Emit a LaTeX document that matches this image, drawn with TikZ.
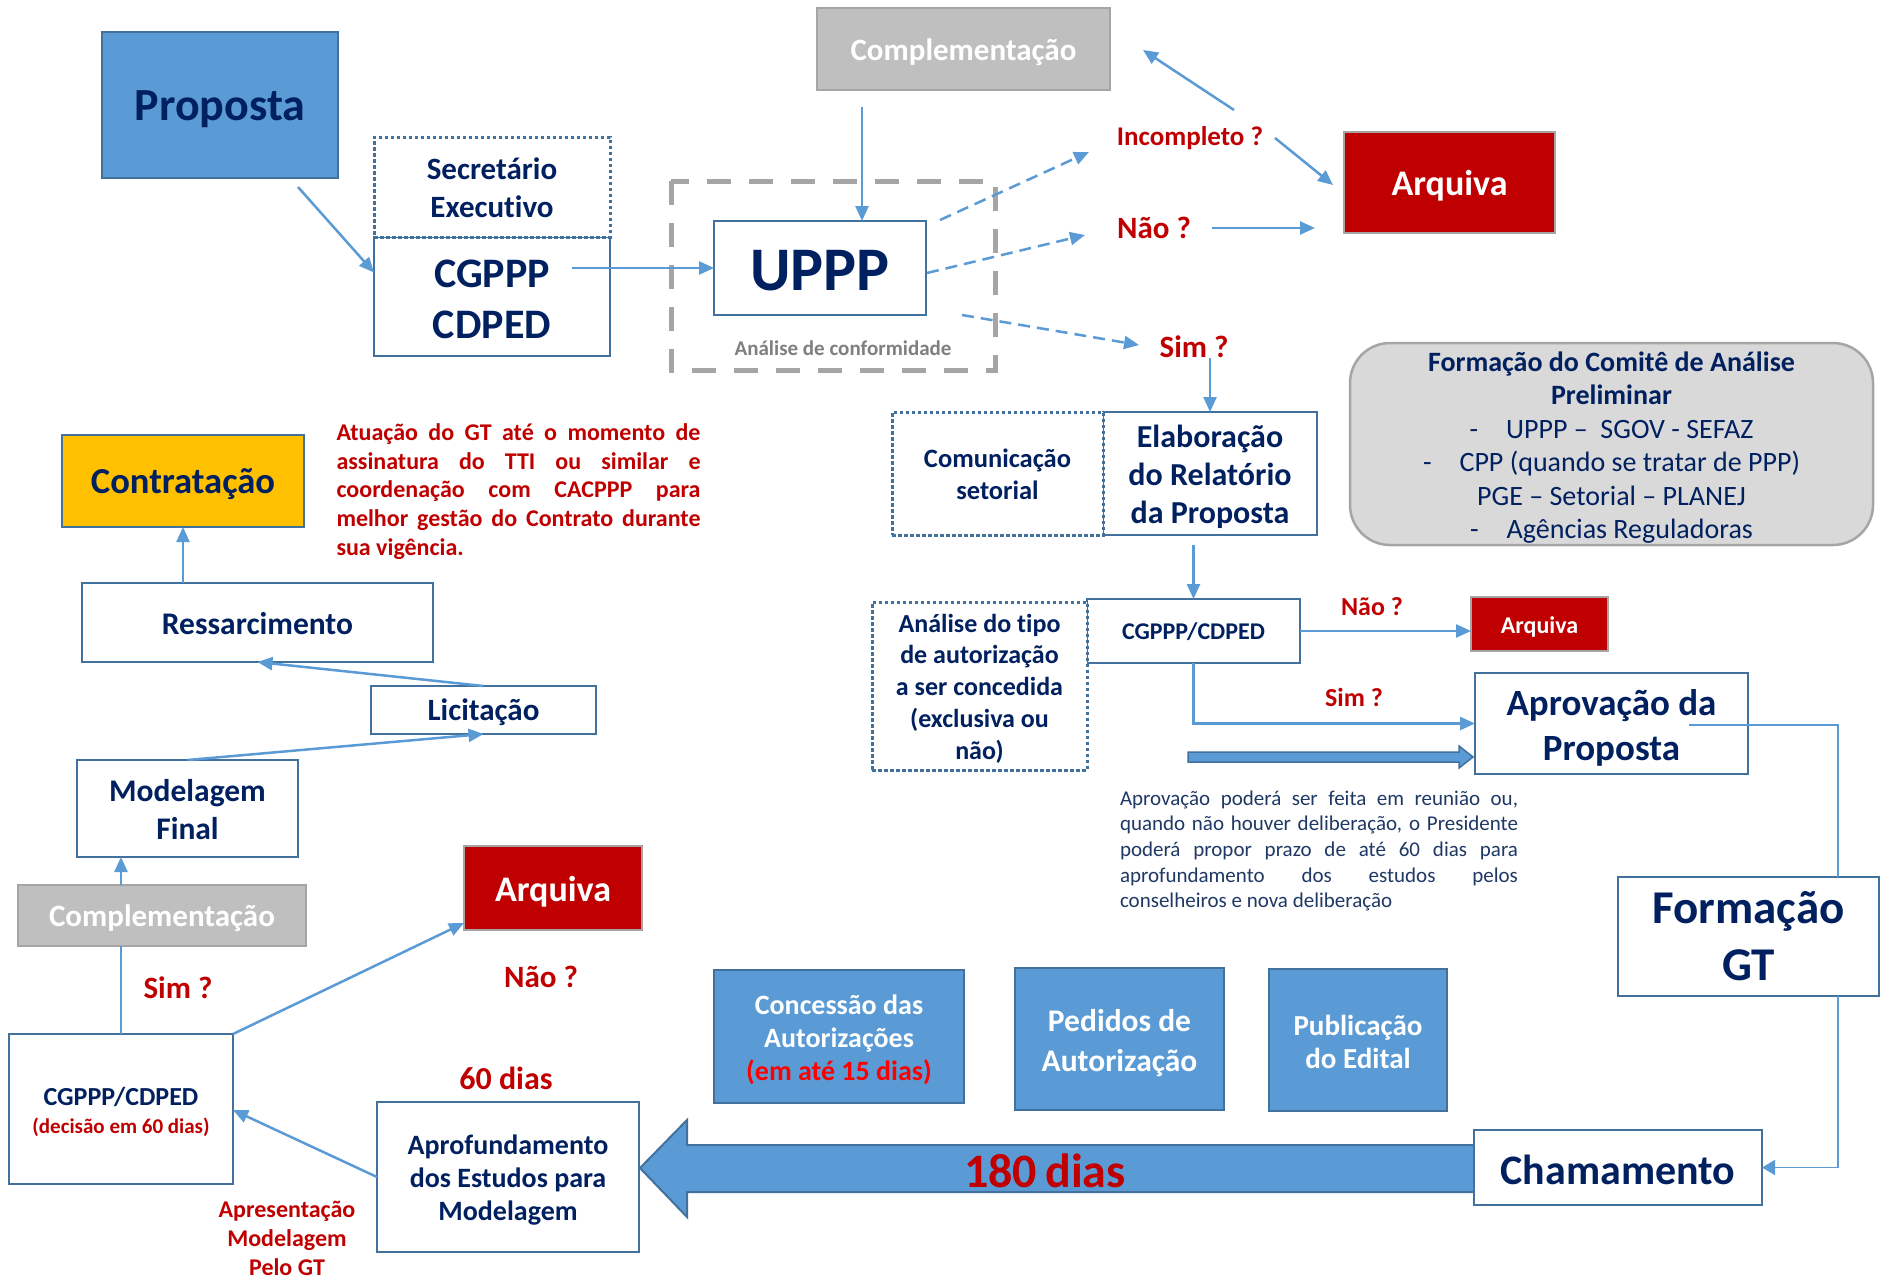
\documentclass[tikz,border=0pt]{standalone}
\usepackage{fontspec}
\setmainfont{Carlito}[Ligatures=NoCommon]
\usetikzlibrary{arrows.meta,calc}
\definecolor{navy}{HTML}{002060}
\definecolor{boxblue}{HTML}{5B9BD5}
\definecolor{bborder}{HTML}{41719C}
\definecolor{ablue}{HTML}{5B9BD5}
\definecolor{dred}{HTML}{C00000}
\definecolor{bred}{HTML}{FF0000}
\definecolor{greyf}{HTML}{BFBFBF}
\definecolor{greyb}{HTML}{A5A5A5}
\definecolor{lgrey}{HTML}{D9D9D9}
\definecolor{gold}{HTML}{FFC000}
\definecolor{tgrey}{HTML}{7F7F7F}
\definecolor{notec}{HTML}{1F3864}
\newcommand\fsz[2]{\fontsize{#1}{#2}\selectfont}
\newcommand\dn[2][3pt]{\raisebox{-#1}[\height][\depth]{#2}}
\begin{document}
\begin{tikzpicture}[x=1pt,y=-1pt,
 every node/.style={inner sep=0pt, outer sep=0pt},
 wh/.style 2 args={minimum width=#1pt, minimum height=#2pt},
 box/.style={draw=bborder, line width=2.5pt, fill=white, align=center, text=navy},
 dotbox/.style={draw=bborder, line width=3pt, dash pattern=on 3.5pt off 2.5pt, align=center, text=navy},
 bluebox/.style={draw=bborder, line width=2.5pt, fill=boxblue, align=center, text=white},
 greybox/.style={draw=greyb, line width=2.5pt, fill=greyf, align=center, text=white},
 redbox/.style={draw=greyb, line width=2.5pt, fill=dred, align=center, text=white},
 lab/.style={text=dred, align=center},
 arr/.style={draw=ablue, line width=2.5pt, -{Triangle[length=15pt,width=13pt]}},
 darr/.style={arr, dash pattern=on 12pt off 7pt},
 conn/.style={draw=ablue, line width=2.5pt},
 thinl/.style={draw=ablue, line width=1.8pt},
]
\fill[white] (0,0) rectangle (1884,1282);
\useasboundingbox (0,0) rectangle (1884,1282);

% big 180 dias arrow
\draw[fill=boxblue, draw=bborder, line width=2pt] (1474,1145) -- (687,1145) -- (687,1120) -- (640,1168) -- (687,1217) -- (687,1192) -- (1474,1192);
% thick arrow into Aprovacao
\draw[fill=boxblue, draw=bborder, line width=1.5pt] (1188,752) -- (1459,752) -- (1459,746) -- (1473,757) -- (1459,768) -- (1459,762) -- (1188,762) -- cycle;

% dashed grey analysis frame
\draw[greyb, line width=5pt, dash pattern=on 24pt off 18pt] (671,181) rectangle (995,370);
\node[text=tgrey, font=\bfseries\fsz{21}{25}] (conf) at (843,348) {Análise de conformidade};

% top row
\node[bluebox, wh={236}{146}, text=navy, font=\bfseries\fsz{46}{55}] (prop) at (220,105) {\dn[4pt]{Proposta}};
\node[box, wh={236}{119}, font=\bfseries\fsz{42}{51}] (cg) at (492,296.5) {\dn{CGPPP}\\\dn{CDPED}};
\node[dotbox, wh={236}{100}, fill=white, font=\bfseries\fsz{31}{38}] (sec) at (492,187) {\dn[1pt]{Secretário}\\\dn[1pt]{Executivo}};
\node[box, wh={212}{94}, font=\bfseries\fsz{62}{70}] (uppp) at (820,268) {\dn{UPPP}};
\node[greybox, wh={293}{82}, font=\bfseries\fsz{31}{37}] (comp) at (963.5,49) {\dn{Complementação}};
\node[redbox, wh={211}{101}, font=\bfseries\fsz{36}{42}] (arq1) at (1449.5,182.5) {\dn[3.5pt]{Arquiva}};

\node[lab, font=\bfseries\fsz{27}{32}] (inc) at (1190,138) {Incompleto ?};
\node[lab, font=\bfseries\fsz{31}{36}] (nao1) at (1154,228) {Não ?};
\node[lab, font=\bfseries\fsz{31}{36}] (sim1) at (1194,347) {Sim ?};

% comite
\node[draw=greyb, fill=lgrey, line width=2.5pt, rounded corners=40pt, wh={523}{202}, align=center, text=navy, font=\fsz{28}{33.4}] (comite) at (1611.5,444)
 {\dn[3.5pt]{\bfseries Formação do Comitê de Análise}\\\dn[3.5pt]{\bfseries Preliminar}\\\dn[3.5pt]{-\quad UPPP –\ \ SGOV - SEFAZ}\\\dn[3.5pt]{-\quad CPP (quando se tratar de PPP)}\\\dn[3.5pt]{PGE – Setorial – PLANEJ}\\\dn[3.5pt]{-\quad Agências Reguladoras}};

% middle right
\node[box, wh={214}{123}, font=\bfseries\fsz{32}{38}] (elab) at (1210,473.5) {\dn{Elaboração}\\\dn{do Relatório}\\\dn{da Proposta}};
\node[dotbox, wh={211}{123}, fill=white, font=\bfseries\fsz{26.5}{32}] (com) at (997.5,473.5) {\dn[1pt]{Comunicação}\\\dn[1pt]{setorial}};
\node[box, wh={213}{64}, font=\bfseries\fsz{24}{28}] (cg2) at (1193.5,631) {\dn[1pt]{CGPPP/CDPED}};
\node[dotbox, wh={215}{168}, fill=white, font=\bfseries\fsz{26}{31.8}] (ana) at (979.5,686) {\dn[2.5pt]{Análise do tipo}\\\dn[2.5pt]{de autorização}\\\dn[2.5pt]{a ser concedida}\\\dn[2.5pt]{(exclusiva ou}\\\dn[2.5pt]{não)}};
\node[redbox, wh={137}{54}, font=\bfseries\fsz{24}{28}] (arq2) at (1539.5,624) {\dn[2.5pt]{Arquiva}};
\node[lab, font=\bfseries\fsz{26}{30}] (nao2) at (1372,607) {Não ?};
\node[lab, font=\bfseries\fsz{26}{30}] (sim2) at (1354,697) {Sim ?};
\node[box, wh={273}{101}, font=\bfseries\fsz{37}{45}] (apr) at (1611.5,723.5) {\dn[4pt]{Aprovação da}\\\dn[4pt]{Proposta}};
\node[text=notec, align=left, font=\fsz{21}{25.7}] (note) at (1319,851)
 {\makebox[398pt][s]{Aprovação poderá ser feita em reunião ou,}\\
  \makebox[398pt][s]{quando não houver deliberação, o Presidente}\\
  \makebox[398pt][s]{poderá propor prazo de até 60 dias para}\\
  \makebox[398pt][s]{aprofundamento dos estudos pelos}\\
  conselheiros e nova deliberação};
\node[box, wh={261}{119}, font=\bfseries\fsz{47}{57}] (fgt) at (1748.5,936.5) {Formação\\GT};
\node[box, wh={288}{75}, font=\bfseries\fsz{42}{50}] (cham) at (1618,1167.5) {\dn[2.5pt]{Chamamento}};

% bottom blue boxes
\node[bluebox, wh={250}{133}, font=\bfseries\fsz{28}{33}] (conc) at (839,1036.5) {\dn[3.5pt]{Concessão das}\\\dn[3.5pt]{Autorizações}\\\dn[3.5pt]{\color{bred}(em até 15 dias)}};
\node[bluebox, wh={209}{142}, font=\bfseries\fsz{31.5}{40}] (ped) at (1119.5,1039) {\dn[4pt]{Pedidos de}\\\dn[4pt]{Autorização}};
\node[bluebox, wh={178}{142}, font=\bfseries\fsz{29}{33}] (pub) at (1358,1040) {\dn[1.5pt]{Publicação}\\\dn[1.5pt]{do Edital}};
\node[text=dred, font=\bfseries\fsz{48}{56}] (dias180) at (1045,1171) {180\,dias};

% bottom left
\node[box, wh={262}{150}, font=\bfseries\fsz{28}{33}] (aprof) at (508,1177) {\dn[3.5pt]{Aprofundamento}\\\dn[3.5pt]{dos Estudos para}\\\dn[3.5pt]{Modelagem}};
\node[lab, font=\bfseries\fsz{32}{38}] (d60) at (506,1078) {60 dias};
\node[box, wh={224}{150}, font=\bfseries\fsz{26}{28}] (cg3) at (121,1109) {\dn{CGPPP/CDPED}\\\dn{\color{dred}\fsz{21}{28}(decisão em 60 dias)}};
\node[lab, font=\bfseries\fsz{24}{29}] (apres) at (287,1238) {Apresentação\\Modelagem\\Pelo GT};
\node[redbox, wh={178}{84}, font=\bfseries\fsz{36}{42}] (arq3) at (553,888) {\dn[3.5pt]{Arquiva}};
\node[lab, font=\bfseries\fsz{31}{36}] (nao3) at (541,977) {Não ?};
\node[lab, font=\bfseries\fsz{31}{36}] (sim3) at (178,988) {Sim ?};
\node[greybox, wh={288}{61}, font=\bfseries\fsz{31}{37}] (comp3) at (162,915.5) {\dn[2.5pt]{Complementação}};
\node[box, wh={221}{97}, font=\bfseries\fsz{31.5}{38}] (mod) at (187.5,808.5) {\dn[1pt]{Modelagem}\\\dn[1pt]{Final}};
\node[box, wh={225}{48}, font=\bfseries\fsz{31}{36}] (lic) at (483.5,710) {\dn[2.5pt]{Licitação}};
\node[box, wh={351}{79}, font=\bfseries\fsz{31.5}{37}] (ress) at (257.5,622.5) {\dn[1pt]{Ressarcimento}};
\node[box, wh={242}{92}, fill=gold, font=\bfseries\fsz{36.6}{42}] (contr) at (183,481) {\dn[3.5pt]{Contratação}};
\node[text=dred, align=left, font=\bfseries\fsz{24}{28.8}] (atua) at (518.5,491.5)
 {\makebox[364pt][s]{Atuação do GT até o momento de}\\
  \makebox[364pt][s]{assinatura do TTI ou similar e}\\
  \makebox[364pt][s]{coordenação com CACPPP para}\\
  \makebox[364pt][s]{melhor gestão do Contrato durante}\\
  sua vigência.};

% free ends
\coordinate (p1) at (298,187);
\coordinate (c2) at (572,268);
\coordinate (c3) at (862,107);
\coordinate (d1s) at (940,220);
\coordinate (d1e) at (1089,152);
\coordinate (d2s) at (927,273);
\coordinate (d2e) at (1085,235);
\coordinate (d3s) at (962,315);
\coordinate (d3e) at (1139,345);
\coordinate (i1) at (1234,110);
\coordinate (i1e) at (1143,50);
\coordinate (i2) at (1275,138);
\coordinate (i2e) at (1333,185);
\coordinate (n1) at (1212,228);
\coordinate (n1e) at (1315,228);
\coordinate (a1) at (1689,725);

% connectors
\draw[arr] (p1) -- ([yshift=24pt]cg.west);
\draw[arr] (c2) -- (uppp.west);
\draw[arr] (c3) -- (c3 |- uppp.north);
\draw[darr] (d1s) -- (d1e);
\draw[darr] (d2s) -- (d2e);
\draw[darr] (d3s) -- (d3e);
\draw[arr] (i1) -- (i1e);
\draw[arr] (i2) -- (i2e);
\draw[arr] (n1) -- (n1e);
\draw[arr] (sim1.south -| elab.north) -- (elab.north);
\draw[arr] ([yshift=-10pt]elab.south -| cg2.north) -- (cg2.north);
\draw[arr] (cg2.east) -- (cg2.east -| arq2.west);
\draw[arr] (cg2.south) |- (apr.west);
\draw[thinl] (a1) -| ([xshift=89.5pt]fgt.north);
\draw[thinl, -{Triangle[length=13pt,width=15pt]}] ([xshift=89.5pt]fgt.south) |- (cham.east);
\draw[arr] (aprof.west) -- ([yshift=-1pt]cg3.east);
\draw[arr] (cg3.north east) -- ([yshift=7pt]arq3.south west);
\draw[conn] (cg3.north) -- (cg3.north |- comp3.south);
\draw[arr] (cg3.north |- comp3.north) -- (cg3.north |- mod.south);
\draw[arr] (mod.north) -- (lic.south);
\draw[arr] (lic.north) -- (ress.south);
\draw[arr] (contr.south |- ress.north) -- (contr.south);
\end{tikzpicture}
\end{document}
